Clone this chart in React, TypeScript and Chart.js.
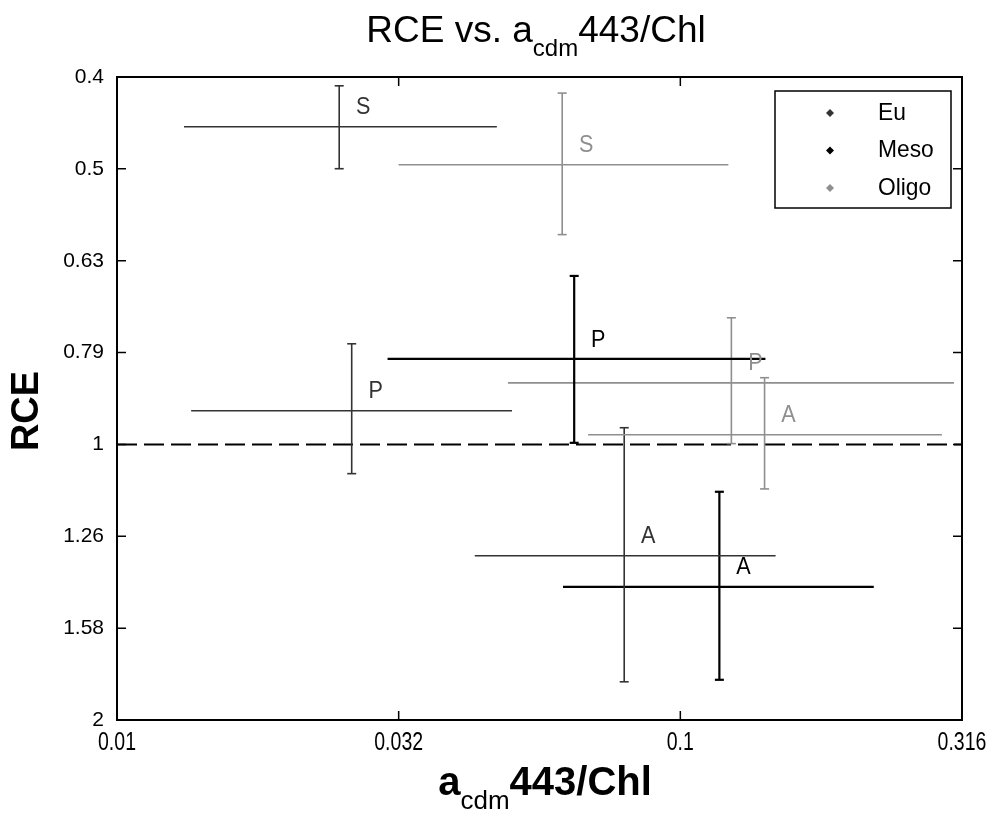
import React, { useEffect, useRef } from 'react';
import { Chart, registerables } from 'chart.js';

Chart.register(...registerables);

// Water types and their line colours
const groupNames = ['Eu', 'Meso', 'Oligo'];
const groupColors = ['#333333', '#000000', '#8f8f8f'];
const groupWidths = [1.6, 2.2, 1.6];

// One entry per season/water-type combination
const seasonLabels = ['S', 'S', 'P', 'P', 'P', 'A', 'A', 'A'];
const pointGroup = [0, 2, 0, 1, 2, 2, 0, 1];
const xCenter = [0.0248, 0.0617, 0.0261, 0.0648, 0.1232, 0.1411, 0.0795, 0.1173];
const xLow = [0.01315, 0.03162, 0.01354, 0.03022, 0.04943, 0.0686, 0.04316, 0.0619];
const xHigh = [0.04724, 0.1217, 0.05025, 0.1416, 0.306, 0.2913, 0.1476, 0.2205];
const yCenter = [0.451, 0.496, 0.919, 0.807, 0.857, 0.976, 1.322, 1.429];
const yLow = [0.407, 0.4145, 0.777, 0.6555, 0.728, 0.846, 0.959, 1.126];
const yHigh = [0.501, 0.591, 1.076, 0.996, 0.998, 1.118, 1.813, 1.804];

// Axis ticks
const xTicks = [0.01, 0.031623, 0.1, 0.316228];
const xTickLabels = ['0.01', '0.032', '0.1', '0.316'];
const yTicks = [0.398107, 0.501187, 0.630957, 0.794328, 1, 1.258925, 1.584893, 1.995262];
const yTickLabels = ['0.4', '0.5', '0.63', '0.79', '1', '1.26', '1.58', '2'];

const FONT = '"Liberation Sans", Arial, sans-serif';

function drawText(
  ctx: CanvasRenderingContext2D,
  text: string,
  x: number,
  y: number,
  font: string,
  align: CanvasTextAlign,
  baseline: CanvasTextBaseline,
  sx = 1,
  sy = 1,
  color = '#000'
) {
  ctx.save();
  ctx.translate(x, y);
  ctx.scale(sx, sy);
  ctx.font = font;
  ctx.fillStyle = color;
  ctx.textAlign = align;
  ctx.textBaseline = baseline;
  ctx.fillText(text, 0, 0);
  ctx.restore();
}

type Piece = { t: string; font: string; dy: number };

// Draws a run of text pieces (normal + subscript) starting at x
function drawRun(ctx: CanvasRenderingContext2D, pieces: Piece[], x: number, y: number, sx: number) {
  let cx = x;
  for (const p of pieces) {
    ctx.save();
    ctx.translate(cx, y + p.dy);
    ctx.scale(sx, 1);
    ctx.font = p.font;
    ctx.fillStyle = '#000';
    ctx.textAlign = 'left';
    ctx.textBaseline = 'alphabetic';
    ctx.fillText(p.t, 0, 0);
    const w = ctx.measureText(p.t).width * sx;
    ctx.restore();
    cx += w;
  }
  return cx - x;
}

function runWidth(ctx: CanvasRenderingContext2D, pieces: Piece[], sx: number) {
  let w = 0;
  for (const p of pieces) {
    ctx.save();
    ctx.font = p.font;
    w += ctx.measureText(p.t).width * sx;
    ctx.restore();
  }
  return w;
}

const decorPlugin = {
  id: 'decor',
  afterDatasetsDraw(chart: any) {
    const ctx: CanvasRenderingContext2D = chart.ctx;
    const xs = chart.scales.x;
    const ys = chart.scales.y;
    const area = chart.chartArea;

    // caps on vertical error bars
    ctx.save();
    for (let i = 0; i < xCenter.length; i++) {
      const g = pointGroup[i];
      const px = xs.getPixelForValue(xCenter[i]);
      ctx.strokeStyle = groupColors[g];
      ctx.lineWidth = groupWidths[g];
      for (const v of [yLow[i], yHigh[i]]) {
        const py = ys.getPixelForValue(v);
        ctx.beginPath();
        ctx.moveTo(px - 4.5, py);
        ctx.lineTo(px + 4.5, py);
        ctx.stroke();
      }
    }
    ctx.restore();

    // season letters
    for (let i = 0; i < xCenter.length; i++) {
      const g = pointGroup[i];
      const px = xs.getPixelForValue(xCenter[i]);
      const py = ys.getPixelForValue(yCenter[i]);
      drawText(ctx, seasonLabels[i], px + 24, py - 19, `24px ${FONT}`, 'center', 'middle', 0.9, 1, groupColors[g]);
    }

    // axes box
    ctx.save();
    ctx.strokeStyle = '#000';
    ctx.lineWidth = 2;
    ctx.strokeRect(area.left, area.top, area.right - area.left, area.bottom - area.top);
    ctx.lineWidth = 1.5;
    const tl = 9;
    for (const t of xTicks) {
      const px = xs.getPixelForValue(t);
      ctx.beginPath();
      ctx.moveTo(px, area.bottom);
      ctx.lineTo(px, area.bottom - tl);
      ctx.moveTo(px, area.top);
      ctx.lineTo(px, area.top + tl);
      ctx.stroke();
    }
    for (const t of yTicks) {
      const py = ys.getPixelForValue(t);
      ctx.beginPath();
      ctx.moveTo(area.left, py);
      ctx.lineTo(area.left + tl, py);
      ctx.moveTo(area.right, py);
      ctx.lineTo(area.right - tl, py);
      ctx.stroke();
    }
    ctx.restore();

    // tick labels
    xTicks.forEach((t, i) => {
      drawText(ctx, xTickLabels[i], xs.getPixelForValue(t), area.bottom + 23, `26px ${FONT}`, 'center', 'middle', 0.75, 1);
    });
    yTicks.forEach((t, i) => {
      drawText(ctx, yTickLabels[i], area.left - 13, ys.getPixelForValue(t), `21px ${FONT}`, 'right', 'middle', 1, 1);
    });

    // legend
    const lx = 775, ly = 91, lw = 176, lh = 117;
    ctx.save();
    ctx.fillStyle = '#fff';
    ctx.fillRect(lx, ly, lw, lh);
    ctx.strokeStyle = '#000';
    ctx.lineWidth = 1.5;
    ctx.strokeRect(lx, ly, lw, lh);
    ctx.restore();
    groupNames.forEach((name, i) => {
      const ry = ly + 22 + i * 37.5;
      const mx = lx + 55;
      ctx.save();
      ctx.fillStyle = groupColors[i];
      ctx.beginPath();
      ctx.moveTo(mx, ry - 4);
      ctx.lineTo(mx + 4, ry);
      ctx.lineTo(mx, ry + 4);
      ctx.lineTo(mx - 4, ry);
      ctx.closePath();
      ctx.fill();
      ctx.restore();
      drawText(ctx, name, lx + 103, ry, `24px ${FONT}`, 'left', 'middle', 0.95, 1);
    });

    // title
    const titlePieces: Piece[] = [
      { t: 'RCE vs. a', font: `37px ${FONT}`, dy: 0 },
      { t: 'cdm', font: `24px ${FONT}`, dy: 14 },
      { t: '443/Chl', font: `37px ${FONT}`, dy: 0 },
    ];
    const tw = runWidth(ctx, titlePieces, 1);
    drawRun(ctx, titlePieces, 536 - tw / 2, 42, 1);

    // x axis title
    const xPieces: Piece[] = [
      { t: 'a', font: `bold 40px ${FONT}`, dy: 0 },
      { t: 'cdm', font: `26px ${FONT}`, dy: 14 },
      { t: '443/Chl', font: `bold 40px ${FONT}`, dy: 0 },
    ];
    const xw = runWidth(ctx, xPieces, 1);
    drawRun(ctx, xPieces, 545 - xw / 2, 795, 1);

    // y axis title
    ctx.save();
    ctx.translate(28, 411);
    ctx.rotate(-Math.PI / 2);
    ctx.font = `bold 38px ${FONT}`;
    ctx.fillStyle = '#000';
    ctx.textAlign = 'center';
    ctx.textBaseline = 'middle';
    ctx.fillText('RCE', 0, 0);
    ctx.restore();
  },
};

export default function App() {
  const canvasRef = useRef<HTMLCanvasElement | null>(null);

  useEffect(() => {
    if (!canvasRef.current) return;
    const datasets: any[] = [];
    for (let i = 0; i < xCenter.length; i++) {
      const g = pointGroup[i];
      datasets.push({
        label: `${groupNames[g]} ${seasonLabels[i]} x`,
        data: [
          { x: xLow[i], y: yCenter[i] },
          { x: xHigh[i], y: yCenter[i] },
        ],
        borderColor: groupColors[g],
        borderWidth: groupWidths[g],
        pointRadius: 0,
        fill: false,
        tension: 0,
      });
      datasets.push({
        label: `${groupNames[g]} ${seasonLabels[i]} y`,
        data: [
          { x: xCenter[i], y: yLow[i] },
          { x: xCenter[i], y: yHigh[i] },
        ],
        borderColor: groupColors[g],
        borderWidth: groupWidths[g],
        pointRadius: 0,
        fill: false,
        tension: 0,
      });
    }
    // RCE = 1 reference line
    datasets.push({
      label: 'RCE = 1',
      data: [
        { x: xTicks[0], y: 1 },
        { x: xTicks[xTicks.length - 1], y: 1 },
      ],
      borderColor: '#000',
      borderWidth: 2,
      borderDash: [20, 7],
      pointRadius: 0,
      fill: false,
    });

    const chart = new Chart(canvasRef.current, {
      type: 'line',
      data: { datasets },
      options: {
        animation: false,
        responsive: false,
        maintainAspectRatio: false,
        layout: { padding: { left: 109, right: 32, top: 77, bottom: 86 } },
        plugins: { legend: { display: false }, tooltip: { enabled: false }, title: { display: false } },
        scales: {
          x: {
            type: 'logarithmic',
            min: xTicks[0],
            max: xTicks[xTicks.length - 1],
            grid: { display: false },
            border: { display: false },
            ticks: { display: false },
            afterBuildTicks: (s: any) => {
              s.ticks = xTicks.map((v) => ({ value: v }));
            },
          },
          y: {
            type: 'logarithmic',
            reverse: true,
            min: yTicks[0],
            max: yTicks[yTicks.length - 1],
            grid: { display: false },
            border: { display: false },
            ticks: { display: false },
            afterBuildTicks: (s: any) => {
              s.ticks = yTicks.map((v) => ({ value: v }));
            },
          },
        },
      },
      plugins: [decorPlugin],
    });
    return () => chart.destroy();
  }, []);

  return (
    <div style={{ position: 'fixed', left: 0, top: 0, width: 994, height: 814, background: '#fff' }}>
      <canvas ref={canvasRef} width={994} height={814} style={{ display: 'block' }} />
    </div>
  );
}
